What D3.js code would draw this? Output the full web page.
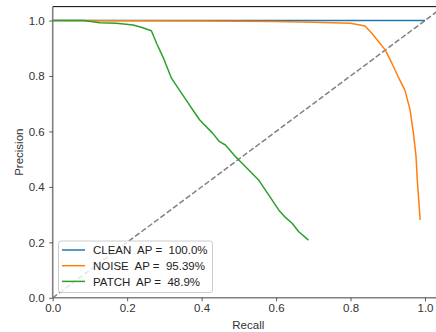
<!DOCTYPE html>
<html lang="en">
<head>
  <meta charset="UTF-8" />
  <title>PR curves</title>
  <script src="https://cdn.jsdelivr.net/npm/d3@7"></script>
  <style>
    html, body { margin: 0; padding: 0; background: #fff; }
    svg { display: block; font-family: "Liberation Sans", Arial, sans-serif; }
  </style>
</head>
<body>
<svg id="chart" width="436" height="332"></svg>
<script>
  const seriesNames = ["CLEAN", "NOISE", "PATCH"];
  const apLabels = ["100.0%", "95.39%", "48.9%"];
  const colors = ["#1f77b4", "#ff7f0e", "#2ca02c"];

  const cleanRecall = [0, 1.0];
  const cleanPrecision = [1.0, 1.0];

  const noiseRecall = [0, 0.2, 0.4, 0.6, 0.7, 0.8, 0.839, 0.857, 0.875, 0.893, 0.911, 0.928, 0.946, 0.960, 0.969, 0.976, 0.979, 0.983, 0.987];
  const noisePrecision = [1.0, 0.999, 0.998, 0.996, 0.994, 0.990, 0.980, 0.954, 0.924, 0.894, 0.846, 0.797, 0.749, 0.677, 0.593, 0.509, 0.430, 0.355, 0.281];

  const patchRecall = [0, 0.083, 0.127, 0.171, 0.216, 0.240, 0.265, 0.279, 0.296, 0.319, 0.335, 0.350, 0.365, 0.380, 0.395, 0.430, 0.448, 0.464, 0.491, 0.500, 0.522, 0.553, 0.580, 0.607, 0.625, 0.643, 0.661, 0.687];
  const patchPrecision = [1.0, 1.0, 0.992, 0.990, 0.984, 0.975, 0.963, 0.918, 0.869, 0.792, 0.760, 0.730, 0.700, 0.670, 0.641, 0.593, 0.563, 0.551, 0.509, 0.497, 0.467, 0.425, 0.371, 0.317, 0.290, 0.269, 0.238, 0.208];

  const xTicks = [0, 0.2, 0.4, 0.6, 0.8, 1.0];
  const yTicks = [0, 0.2, 0.4, 0.6, 0.8, 1.0];

  const svg = d3.select("#chart");
  const left = 52.7, bottom = 297.8;
  const fs = 11.5;
  const x = d3.scaleLinear().domain([0, 1.05]).range([left, left + 372.3 * 1.05]);
  const y = d3.scaleLinear().domain([0, 1.05]).range([bottom, bottom - 277.3 * 1.05]);

  const plot = svg.append("g");

  // diagonal reference
  plot.append("line")
    .attr("x1", x(0)).attr("y1", y(0))
    .attr("x2", x(1.05)).attr("y2", y(1.05))
    .attr("stroke", "#808080").attr("stroke-width", 1.5)
    .attr("stroke-dasharray", "5.5,2.4");

  const line = d3.line().x(d => x(d[0])).y(d => y(d[1]));
  const series = [
    d3.zip(cleanRecall, cleanPrecision),
    d3.zip(noiseRecall, noisePrecision),
    d3.zip(patchRecall, patchPrecision)
  ];
  series.forEach((pts, i) => {
    plot.append("path")
      .attr("d", line(pts))
      .attr("fill", "none")
      .attr("stroke", colors[i])
      .attr("stroke-width", 1.5)
      .attr("stroke-linejoin", "round");
  });

  // spines
  svg.append("line").attr("x1", left).attr("x2", 436).attr("y1", y(1.05)).attr("y2", y(1.05))
    .attr("stroke", "#000").attr("stroke-width", 1);
  svg.append("line").attr("x1", left).attr("x2", left).attr("y1", y(1.05)).attr("y2", bottom)
    .attr("stroke", "#808080").attr("stroke-width", 1.6);
  svg.append("line").attr("x1", left).attr("x2", 436).attr("y1", bottom).attr("y2", bottom)
    .attr("stroke", "#808080").attr("stroke-width", 1.6);

  // axes
  const xAxis = svg.append("g").attr("transform", `translate(0,${bottom})`)
    .call(d3.axisBottom(x).tickValues(xTicks).tickFormat(d3.format(".1f")).tickSize(3.5).tickPadding(3));
  const yAxis = svg.append("g").attr("transform", `translate(${left},0)`)
    .call(d3.axisLeft(y).tickValues(yTicks).tickFormat(d3.format(".1f")).tickSize(3.5).tickPadding(4.5));
  [xAxis, yAxis].forEach(a => {
    a.select(".domain").remove();
    a.selectAll(".tick line").attr("stroke", "#333").attr("stroke-width", 0.8);
    a.selectAll(".tick text").attr("fill", "#333").attr("font-size", fs)
      .attr("font-family", "Liberation Sans, Arial, sans-serif");
  });

  svg.append("text").attr("x", 248.3).attr("y", 328.5).attr("text-anchor", "middle")
    .attr("font-size", fs).attr("fill", "#333").text("Recall");
  svg.append("text").attr("transform", `translate(23,${(bottom + y(1.05)) / 2}) rotate(-90)`)
    .attr("text-anchor", "middle").attr("font-size", fs).attr("fill", "#333").text("Precision");

  // legend
  const lg = svg.append("g");
  lg.append("rect").attr("x", 58.5).attr("y", 241).attr("width", 154).attr("height", 51.5)
    .attr("rx", 2.5).attr("fill", "#fff").attr("fill-opacity", 0.8)
    .attr("stroke", "#ccc").attr("stroke-width", 1);
  seriesNames.forEach((name, i) => {
    const yy = 250 + i * 15.7;
    lg.append("line").attr("x1", 62).attr("x2", 85).attr("y1", yy).attr("y2", yy)
      .attr("stroke", colors[i]).attr("stroke-width", 1.5);
    lg.append("text").attr("x", 93).attr("y", yy + 4.1)
      .attr("font-size", fs).attr("fill", "#222")
      .attr("xml:space", "preserve").style("white-space", "pre")
      .text(`${name}  AP =  ${apLabels[i]}`);
  });
</script>
</body>
</html>
